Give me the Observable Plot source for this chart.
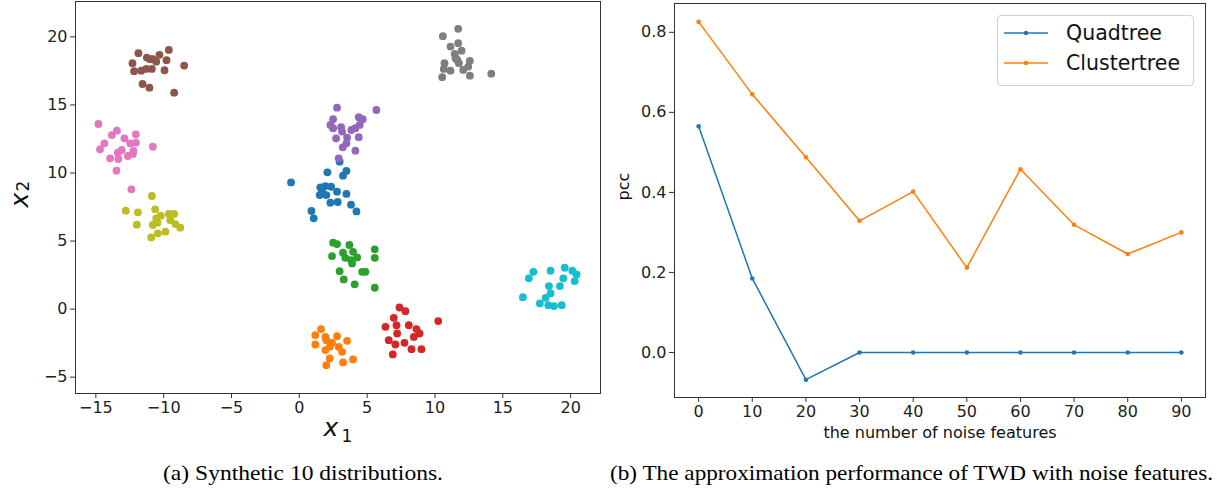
<!DOCTYPE html>
<html><head><meta charset="utf-8">
<script src="https://cdn.jsdelivr.net/npm/d3@7"></script>
<script src="https://cdn.jsdelivr.net/npm/@observablehq/plot@0.6"></script>
<style>
body{margin:0;background:#fff;}
#wrap{position:relative;width:1217px;height:490px;overflow:hidden;font-family:"DejaVu Sans",sans-serif;}
#left{position:absolute;left:0;top:0;}
#right{position:absolute;left:608px;top:0;}
.cap{position:absolute;top:460px;font-family:"Liberation Serif",serif;font-size:22px;line-height:26px;white-space:nowrap;color:#000;transform-origin:0 0;}
#legend{position:absolute;left:997px;top:15px;width:197px;height:71px;box-sizing:border-box;border:1px solid #d0d0d0;border-radius:4px;background:rgba(255,255,255,0.85);}
</style>
</head><body>
<div id="wrap">
  <div id="left"></div>
  <div id="right"></div>
  <div id="legend"></div>
  <span class="cap" id="capA" data-left="163" data-width="280">(a) Synthetic 10 distributions.</span>
  <span class="cap" id="capB" data-left="610" data-width="603">(b) The approximation performance of TWD with noise features.</span>
</div>
<script>
// ---------- Panel (a): synthetic clusters ----------
const clusterColors = ["#1f77b4","#ff7f0e","#2ca02c","#d62728","#9467bd","#8c564b","#e377c2","#7f7f7f","#bcbd22","#17becf"];
const clusterIds = [0,1,2,3,4,5,6,7,8,9];
const xTicksA = [-15,-10,-5,0,5,10,15,20];
const yTicksA = [-5,0,5,10,15,20];

const cluster0 = [[-0.61,9.31],[2.07,10.05],[2.97,10.83],[3.22,9.80],[3.47,10.15],[1.55,8.95],[1.92,9.04],[2.34,8.99],[2.78,8.63],[1.50,8.38],[1.99,8.38],[3.47,8.46],[2.29,7.82],[2.83,7.87],[3.81,7.67],[4.21,7.18],[0.89,7.21],[1.06,6.67],[1.67,8.70]];
const cluster1 = [[1.60,-1.47],[1.18,-1.91],[1.92,-2.04],[2.78,-1.99],[3.52,-2.33],[1.18,-2.60],[1.99,-2.28],[2.41,-2.48],[2.90,-2.77],[1.92,-3.01],[2.24,-2.77],[3.15,-3.14],[2.24,-3.63],[3.96,-3.70],[3.22,-3.92],[1.99,-4.12]];
const cluster2 = [[2.49,4.88],[2.78,4.78],[3.69,4.71],[3.22,4.14],[3.96,4.21],[5.56,4.39],[2.41,3.90],[3.39,3.77],[4.26,3.80],[5.56,3.77],[3.89,3.36],[3.81,3.60],[2.97,2.79],[4.63,2.74],[4.87,2.74],[3.27,2.18],[4.08,1.82],[5.56,1.57]];
const cluster3 = [[7.38,0.12],[7.82,-0.15],[10.24,-0.88],[6.96,-0.64],[6.35,-1.30],[7.16,-1.18],[8.07,-1.18],[8.63,-1.47],[8.86,-1.79],[7.21,-1.79],[8.44,-2.04],[6.59,-2.28],[7.08,-2.60],[7.75,-2.48],[8.27,-2.94],[9.00,-2.94],[6.89,-3.33]];
const cluster4 = [[2.78,14.80],[5.68,14.63],[2.49,13.95],[4.38,14.10],[4.67,13.95],[2.29,13.53],[2.49,13.29],[3.08,13.36],[3.15,13.04],[3.84,13.16],[4.13,13.29],[4.45,13.53],[2.71,12.55],[3.52,12.60],[4.38,12.63],[3.47,12.18],[3.20,11.89],[4.13,11.64],[2.90,11.08]];
const cluster5 = [[-11.86,18.80],[-12.30,18.07],[-12.18,17.48],[-11.24,18.48],[-10.80,18.36],[-10.31,18.68],[-9.62,19.04],[-9.79,18.29],[-10.55,18.18],[-11.66,17.52],[-11.29,17.65],[-10.87,17.65],[-9.94,17.55],[-8.49,17.89],[-11.56,16.54],[-11.05,16.27],[-9.23,15.90],[-11.00,18.36]];
const cluster6 = [[-14.81,13.60],[-13.45,13.11],[-13.82,12.79],[-12.05,12.84],[-12.89,12.55],[-14.37,12.18],[-12.47,12.18],[-12.05,12.23],[-14.69,11.74],[-13.09,11.69],[-13.38,11.49],[-12.23,11.62],[-10.80,11.93],[-13.95,11.08],[-13.34,11.03],[-12.64,11.25],[-12.27,11.40],[-13.48,10.17],[-12.38,8.80]];
const cluster7 = [[11.71,20.59],[10.58,20.05],[11.14,19.29],[11.71,19.54],[11.96,18.99],[11.46,18.75],[11.64,18.31],[11.76,18.07],[12.57,18.24],[10.70,18.07],[10.65,17.65],[11.14,17.52],[12.08,17.57],[12.45,17.82],[12.57,17.15],[10.53,17.04],[14.15,17.30],[11.51,18.43]];
const cluster8 = [[-10.87,8.31],[-12.79,7.23],[-11.90,7.11],[-10.63,7.33],[-10.21,6.86],[-9.62,6.99],[-9.23,6.99],[-11.98,6.20],[-10.80,6.18],[-10.46,6.35],[-9.52,6.54],[-9.13,6.25],[-8.78,5.98],[-10.92,5.27],[-10.43,5.57],[-9.87,5.69],[-10.55,6.67]];
const cluster9 = [[17.25,2.74],[16.92,2.26],[18.52,2.82],[19.56,3.04],[20.12,2.82],[20.44,2.55],[19.46,2.26],[20.30,2.06],[19.21,1.69],[18.40,1.69],[18.52,1.15],[18.15,0.83],[16.48,0.88],[17.73,0.42],[18.35,0.29],[18.77,0.22],[19.34,0.29]];

// ---------- Panel (b): pcc vs noise features ----------
const noiseFeatures = [0,10,20,30,40,50,60,70,80,90];
const quadtreePcc = [0.565,0.185,-0.068,0,0,0,0,0,0,0];
const clustertreePcc = [0.826,0.645,0.488,0.329,0.402,0.212,0.458,0.319,0.246,0.300];
const yTicksB = [0,0.2,0.4,0.6,0.8];
const seriesNames = ["Quadtree","Clustertree"];
const seriesColors = ["#1f77b4","#ff7f0e"];

const minusFmt = d => d < 0 ? "\u2212" + (-d) : String(d);

const clusters = [cluster0,cluster1,cluster2,cluster3,cluster4,cluster5,cluster6,cluster7,cluster8,cluster9];
const scatter = clusters.flatMap((pts,i) => pts.map(([x,y]) => ({x, y, c: clusterIds[i]})));

const left = Plot.plot({
  width: 608, height: 450,
  marginLeft: 75, marginRight: 8, marginTop: 1, marginBottom: 57,
  style: {fontFamily: "DejaVu Sans", fontSize: "16px", color: "#222", background: "transparent"},
  x: {domain: [-16.5, 22.2]},
  y: {domain: [-6.2, 22.6]},
  color: {type: "ordinal", domain: clusterIds, range: clusterColors},
  marks: [
    Plot.dot(scatter, {x: "x", y: "y", fill: "c", r: 3.9, stroke: "none"}),
    Plot.frame({stroke: "#333", strokeWidth: 1}),
    Plot.axisX({ticks: xTicksA, tickFormat: minusFmt, tickSize: 5, tickPadding: 3, label: null, fontSize: 16, stroke: "#333"}),
    Plot.axisY({ticks: yTicksA, tickFormat: minusFmt, tickSize: 5, tickPadding: 3, label: null, fontSize: 16, stroke: "#333"}),
    Plot.text(["x"], {frameAnchor: "bottom", dx: -7, dy: 42, fontSize: 25, fontStyle: "italic", fill: "#111"}),
    Plot.text(["1"], {frameAnchor: "bottom", dx: 9, dy: 48, fontSize: 17, fill: "#111"}),
    Plot.text(["x"], {frameAnchor: "left", dx: -56, dy: 10, rotate: -90, fontSize: 25, fontStyle: "italic", fill: "#111"}),
    Plot.text(["2"], {frameAnchor: "left", dx: -52, dy: -6, rotate: -90, fontSize: 17, fill: "#111"})
  ]
});
document.getElementById("left").appendChild(left);

const lineData = seriesNames.flatMap((s, si) => noiseFeatures.map((n, i) => ({n, v: (si === 0 ? quadtreePcc : clustertreePcc)[i], s})));

const right = Plot.plot({
  width: 609, height: 450,
  marginLeft: 66, marginRight: 12, marginTop: 3, marginBottom: 53,
  style: {fontFamily: "DejaVu Sans", fontSize: "16px", color: "#222", background: "transparent"},
  x: {domain: [-4.5, 94.5]},
  y: {domain: [-0.1125, 0.872]},
  color: {domain: seriesNames, range: seriesColors},
  marks: [
    Plot.line(lineData, {x: "n", y: "v", z: "s", stroke: "s", strokeWidth: 1.5}),
    Plot.dot(lineData, {x: "n", y: "v", fill: "s", r: 2.3, stroke: "none"}),
    Plot.frame({stroke: "#333", strokeWidth: 1}),
    Plot.axisX({ticks: noiseFeatures, tickSize: 5, tickPadding: 3, label: null, fontSize: 16, stroke: "#333"}),
    Plot.axisY({ticks: yTicksB, tickFormat: d3.format(".1f"), tickSize: 5, tickPadding: 3, label: null, fontSize: 16, stroke: "#333"}),
    Plot.text(["the number of noise features"], {frameAnchor: "bottom", dy: 40, fontSize: 16, fill: "#111"}),
    Plot.text(["pcc"], {frameAnchor: "left", dx: -51, rotate: -90, fontSize: 16, fill: "#111"})
  ]
});
document.getElementById("right").appendChild(right);

// legend
const ns = "http://www.w3.org/2000/svg";
const lg = document.createElementNS(ns, "svg");
lg.setAttribute("width", 195); lg.setAttribute("height", 69);
seriesNames.forEach((s, i) => {
  const y = 17 + i * 30;
  const ln = document.createElementNS(ns, "line");
  ln.setAttribute("x1", 6); ln.setAttribute("x2", 50); ln.setAttribute("y1", y); ln.setAttribute("y2", y);
  ln.setAttribute("stroke", seriesColors[i]); ln.setAttribute("stroke-width", 1.5);
  lg.appendChild(ln);
  const c = document.createElementNS(ns, "circle");
  c.setAttribute("cx", 28); c.setAttribute("cy", y); c.setAttribute("r", 2.3); c.setAttribute("fill", seriesColors[i]);
  lg.appendChild(c);
  const t = document.createElementNS(ns, "text");
  t.setAttribute("x", 68); t.setAttribute("y", y); t.setAttribute("dy", "0.35em");
  t.setAttribute("font-family", "DejaVu Sans"); t.setAttribute("font-size", 20.5); t.setAttribute("fill", "#111");
  t.textContent = s;
  lg.appendChild(t);
});
document.getElementById("legend").appendChild(lg);

// stretch captions to the reference widths
document.querySelectorAll(".cap").forEach(el => {
  const w = el.getBoundingClientRect().width;
  const target = +el.dataset.width;
  el.style.left = el.dataset.left + "px";
  el.style.transform = `scaleX(${target / w})`;
});
</script>
</body></html>
